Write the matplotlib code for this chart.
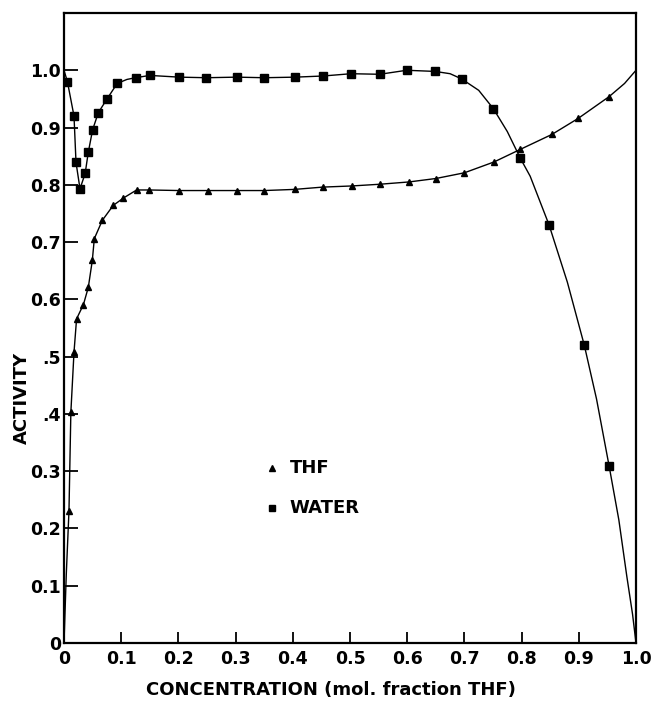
import matplotlib
matplotlib.use("Agg")
import matplotlib.pyplot as plt

# THF activity (triangles)
thf_x = [0.0087, 0.012, 0.0175, 0.022, 0.034, 0.0425, 0.0495, 0.053, 0.067, 0.086,
         0.104, 0.127, 0.149, 0.2016, 0.252, 0.302, 0.350, 0.403, 0.452, 0.503,
         0.552, 0.603, 0.650, 0.700, 0.752, 0.798, 0.853, 0.899, 0.953]
thf_y = [0.231, 0.403, 0.508, 0.566, 0.591, 0.621, 0.668, 0.706, 0.738, 0.764,
         0.777, 0.791, 0.791, 0.790, 0.790, 0.790, 0.790, 0.792, 0.796, 0.798,
         0.801, 0.805, 0.811, 0.821, 0.840, 0.862, 0.888, 0.916, 0.954]

# water activity (squares)
water_x = [0.006, 0.0175, 0.021, 0.028, 0.037, 0.0425, 0.050, 0.060, 0.0746, 0.093,
           0.125, 0.150, 0.2016, 0.249, 0.302, 0.350, 0.404, 0.453, 0.502, 0.552,
           0.599, 0.6486, 0.695, 0.7506, 0.798, 0.848, 0.9096, 0.953]
water_y = [0.980, 0.920, 0.839, 0.793, 0.820, 0.857, 0.896, 0.926, 0.949, 0.977,
           0.987, 0.991, 0.988, 0.987, 0.988, 0.987, 0.988, 0.990, 0.994, 0.993,
           1.000, 0.998, 0.985, 0.933, 0.846, 0.730, 0.520, 0.309]

# hand-drawn curves through the points (no markers)
thf_curve_x = [0.0, 0.004, 0.0087, 0.012, 0.0175, 0.022, 0.034, 0.0425, 0.0495, 0.053,
               0.067, 0.086, 0.104, 0.127, 0.149, 0.2016, 0.252, 0.302, 0.350, 0.403,
               0.452, 0.503, 0.552, 0.603, 0.650, 0.700, 0.752, 0.798, 0.853, 0.899,
               0.953, 0.980, 1.0]
thf_curve_y = [0.0, 0.12, 0.231, 0.403, 0.508, 0.566, 0.591, 0.621, 0.668, 0.706,
               0.738, 0.764, 0.777, 0.791, 0.791, 0.790, 0.790, 0.790, 0.790, 0.792,
               0.796, 0.798, 0.801, 0.805, 0.811, 0.821, 0.840, 0.862, 0.888, 0.916,
               0.954, 0.977, 1.0]
water_curve_x = [0.0, 0.006, 0.0175, 0.021, 0.028, 0.037, 0.0425, 0.050, 0.060, 0.0746,
                 0.093, 0.110, 0.125, 0.150, 0.2016, 0.249, 0.302, 0.350, 0.404, 0.453,
                 0.502, 0.552, 0.599, 0.6486, 0.675, 0.695, 0.725, 0.7506, 0.775, 0.798,
                 0.815, 0.848, 0.880, 0.9096, 0.931, 0.953, 0.970, 0.984, 0.994, 1.0]
water_curve_y = [1.0, 0.980, 0.920, 0.839, 0.793, 0.820, 0.857, 0.896, 0.926, 0.949,
                 0.977, 0.984, 0.987, 0.991, 0.988, 0.987, 0.988, 0.987, 0.988, 0.990,
                 0.994, 0.993, 1.000, 0.998, 0.994, 0.985, 0.965, 0.933, 0.893, 0.846,
                 0.815, 0.730, 0.630, 0.520, 0.426, 0.309, 0.215, 0.116, 0.050, 0.0]

x_ticks = [0, 0.1, 0.2, 0.3, 0.4, 0.5, 0.6, 0.7, 0.8, 0.9, 1.0]
x_labels = ["0", "0.1", "0.2", "0.3", "0.4", "0.5", "0.6", "0.7", "0.8", "0.9", "1.0"]
y_ticks = [0, 0.1, 0.2, 0.3, 0.4, 0.5, 0.6, 0.7, 0.8, 0.9, 1.0]
y_labels = ["0", "0.1", "0.2", "0.3", ".4", ".5", "0.6", "0.7", "0.8", "0.9", "1.0"]

fig = plt.figure(figsize=(6.51, 7.06), dpi=100)
ax = fig.add_axes([64 / 651, 63 / 706, 572 / 651, 630 / 706])

ax.plot(thf_curve_x, thf_curve_y, color="black", lw=1.0)
ax.plot(water_curve_x, water_curve_y, color="black", lw=1.0)
ax.plot(thf_x, thf_y, "^", color="black", ms=5, ls="none")
ax.plot(water_x, water_y, "s", color="black", ms=5.5, ls="none")

ax.set_xlim(0, 1.0)
ax.set_ylim(0, 1.10)
ax.set_xticks(x_ticks)
ax.set_xticklabels(x_labels)
ax.set_yticks(y_ticks)
ax.set_yticklabels(y_labels)
ax.tick_params(axis="both", direction="in", width=1.3, labelsize=12.5)
ax.tick_params(axis="y", length=10, pad=2)
ax.tick_params(axis="x", length=8, pad=5)
for lab in ax.get_xticklabels() + ax.get_yticklabels():
    lab.set_fontweight("bold")
for s in ax.spines.values():
    s.set_linewidth(1.6)

# legend drawn by hand like the original
ax.plot([0.364], [0.306], "^", color="black", ms=4)
ax.plot([0.364], [0.236], "s", color="black", ms=4)
ax.text(0.395, 0.306, "THF", fontsize=13, fontweight="bold", va="center")
ax.text(0.395, 0.236, "WATER", fontsize=13, fontweight="bold", va="center")

fig.text(331 / 651, 1 - 690 / 706, "CONCENTRATION (mol. fraction THF)",
         ha="center", va="center", fontsize=13, fontweight="bold")
fig.text(22 / 651, 1 - 398 / 706, "ACTIVITY", rotation=90,
         ha="center", va="center", fontsize=13, fontweight="bold")

fig.savefig("out.png", dpi=100)
